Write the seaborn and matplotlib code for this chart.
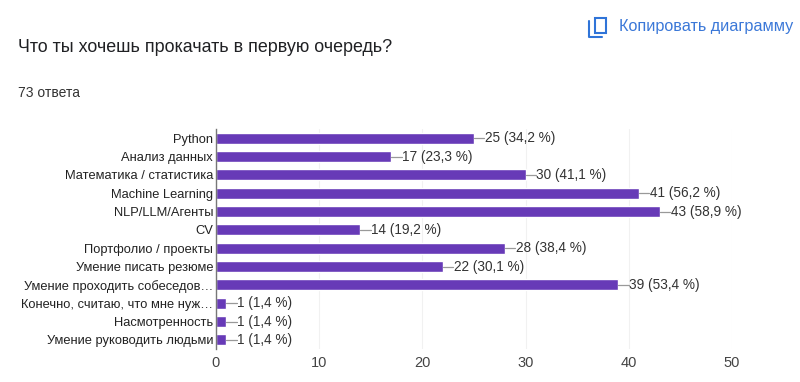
import matplotlib
matplotlib.use('Agg')
import matplotlib.pyplot as plt
from matplotlib.patches import FancyBboxPatch
import seaborn as sns
import pandas as pd

categories = ['Python', 'Анализ данных', 'Математика / статистика', 'Machine Learning',
              'NLP/LLM/Агенты', 'CV', 'Портфолио / проекты', 'Умение писать резюме',
              'Умение проходить собеседов…', 'Конечно, считаю, что мне нуж…',
              'Насмотренность', 'Умение руководить людьми']
counts = [25, 17, 30, 41, 43, 14, 28, 22, 39, 1, 1, 1]
percents = ['34,2', '23,3', '41,1', '56,2', '58,9', '19,2', '38,4', '30,1', '53,4', '1,4', '1,4', '1,4']
xticks = [0, 10, 20, 30, 40, 50]

W, H = 800, 382
sns.set_theme(style='white')
plt.rcParams['font.family'] = ['Liberation Sans', 'DejaVu Sans']

df = pd.DataFrame({'cat': categories, 'n': counts})

fig = plt.figure(figsize=(W / 100, H / 100), dpi=100, facecolor='white')
ax = fig.add_axes([216 / W, 1 - 349 / H, 516 / W, 220 / H])
sns.barplot(data=df, y='cat', x='n', color='#673ab7', saturation=1, width=0.6, ax=ax)

ax.set_xlim(0, 50)
ax.set_ylim(11.5, -0.5)
ax.set_xlabel('')
ax.set_ylabel('')
ax.set_xticks(xticks)
ax.set_xticklabels(xticks, fontsize=10.5, color='#444444')
ax.tick_params(axis='x', length=0, pad=5)
ax.tick_params(axis='y', length=0, pad=2, labelsize=9.3, labelcolor='#222222')
ax.grid(axis='x', color='#f1f1f1', lw=0.8)
ax.set_axisbelow(True)
for s in ['top', 'right', 'bottom']:
    ax.spines[s].set_visible(False)
ax.spines['left'].set_color('#777777')
ax.spines['left'].set_linewidth(1)

# leader line and value label at the end of each bar
for i, (n, p) in enumerate(zip(counts, percents)):
    ax.plot([n, n + 1], [i, i], color='#999999', lw=0.9, clip_on=False)
    ax.text(n + 1.05, i, f'{n} ({p} %)', va='center', ha='left', fontsize=9.8, color='#333333')

fig.text(18 / W, 1 - 48 / H, 'Что ты хочешь прокачать в первую очередь?', fontsize=12.9,
         color='#202124', va='center', ha='left')
fig.text(18 / W, 1 - 93 / H, '73 ответа', fontsize=10, color='#333333', va='center', ha='left')
fig.text(619 / W, 1 - 27 / H, 'Копировать диаграмму', fontsize=11.7, color='#3b78d8',
         va='center', ha='left')

# copy icon
fig.add_artist(FancyBboxPatch((595 / W, 1 - 33 / H), 11 / W, 15 / H, boxstyle='round,pad=0',
                              transform=fig.transFigure, fc='none', ec='#2f74d8', lw=1.5))
fig.add_artist(plt.Line2D([588.5 / W, 588.5 / W, 602 / W], [1 - 21 / H, 1 - 37 / H, 1 - 37 / H],
                          color='#2f74d8', lw=1.5))

fig.savefig('out.png', dpi=100)
plt.close()
